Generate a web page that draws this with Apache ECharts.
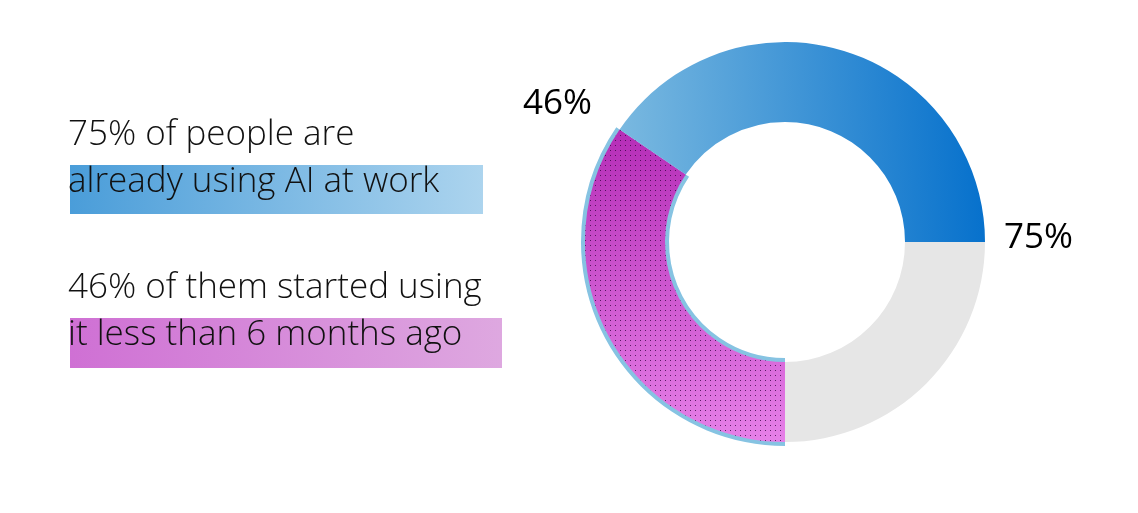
<!DOCTYPE html>
<html><head><meta charset="utf-8">
<script src="https://cdn.jsdelivr.net/npm/echarts@6/dist/echarts.min.js"></script>
<style>html,body{margin:0;background:#fff}#c{width:1138px;height:513px}</style>
</head><body><div id="c"></div>
<script>
const categories = ['Not using AI', 'Started < 6 months ago', 'Using AI longer'];
const values = [25, 34.5, 40.5];
const labels = ['75%', '46%'];
const lines = ['75% of people are', 'already using AI at work', '46% of them started using', 'it less than 6 months ago'];

const chart = echarts.init(document.getElementById('c'));
const lin = (x0,y0,x1,y1,a,b)=>new echarts.graphic.LinearGradient(x0,y0,x1,y1,[{offset:0,color:a},{offset:1,color:b}]);
const center = [785, 242];
const font = '300 35px "Open Sans", sans-serif';
chart.setOption({
  animation:false,
  series:[
    {type:'pie', radius:[116,204], center, startAngle:0, clockwise:true, silent:true, label:{show:false},
     data: values.map((v,i)=>({name:categories[i], value:v, itemStyle:{color: i===1?'#86c3e2':'rgba(0,0,0,0)'}}))},
    {type:'pie', radius:[120,200], center, startAngle:0, clockwise:true, silent:true, label:{show:false},
     data: values.map((v,i)=>({name:categories[i], value:v, itemStyle:
       i===0?{color:'#e6e6e6'}:
       i===1?{color:lin(0,0,0,1,'#b52db7','#e680e8'), decal:{symbol:'rect', symbolSize:1, dashArrayX:[1,4], dashArrayY:[1,4], color:'rgba(50,0,60,0.75)'}}:
       {color:lin(0,0.5,1,0.4,'#7ab9e0','#0570cc')}}))}
  ],
  graphic:[
    {type:'rect', shape:{x:70,y:165,width:413,height:49}, style:{fill:lin(0,0,1,0,'#4a9dd9','#acd4ee')}},
    {type:'rect', shape:{x:70,y:318,width:432,height:50}, style:{fill:lin(0,0,1,0,'#cf70d4','#dea8e0')}},
    {type:'text', left:68, top:118, style:{text:lines[0], font, fill:'#111'}},
    {type:'text', left:68, top:165, style:{text:lines[1], font, fill:'#111'}},
    {type:'text', left:68, top:271, style:{text:lines[2], font, fill:'#111'}},
    {type:'text', left:68, top:318, style:{text:lines[3], font, fill:'#111'}},
    {type:'text', left:523, top:87, style:{text:labels[1], font:'400 35px "Open Sans", sans-serif', fill:'#000'}},
    {type:'text', left:1004, top:221, style:{text:labels[0], font:'400 35px "Open Sans", sans-serif', fill:'#000'}}
  ]
});
</script></body></html>
